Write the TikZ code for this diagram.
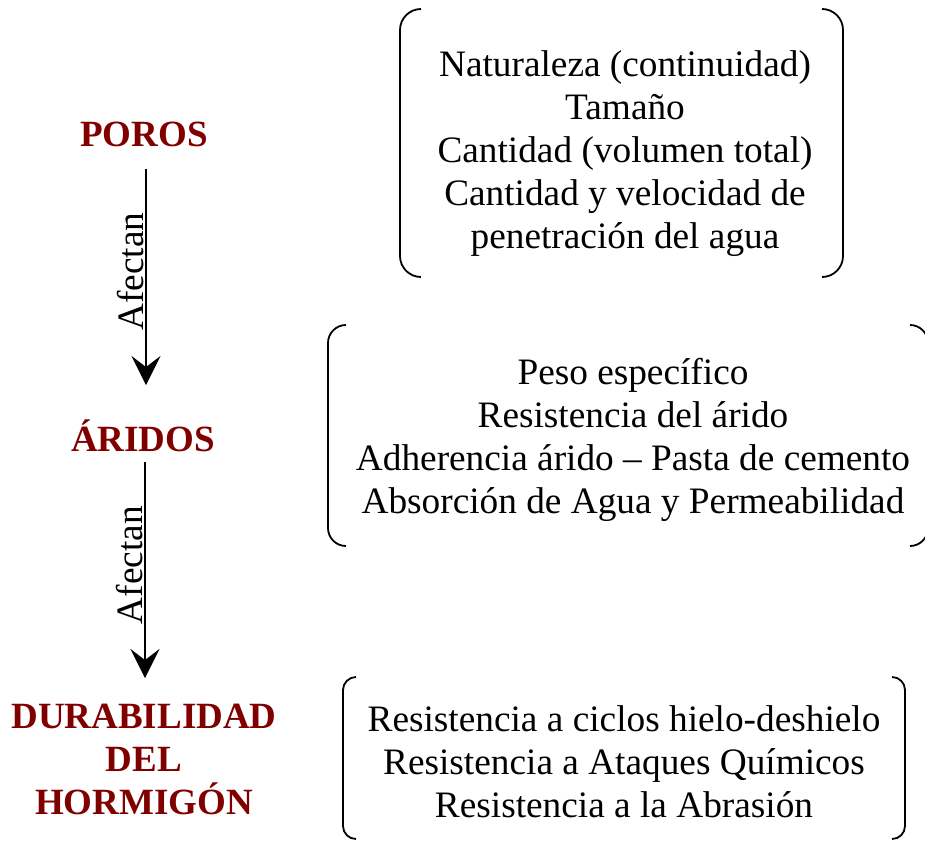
\documentclass[tikz,border=0pt]{standalone}
\usepackage{fontspec}
\setmainfont{Liberation Serif}
\usetikzlibrary{arrows.meta}
\definecolor{darkred}{RGB}{128,0,0}
\begin{document}
\begin{tikzpicture}[x=1pt,y=-1pt,
  lbl/.style={font=\fontsize{37}{43}\selectfont\bfseries, text=darkred, align=center, inner sep=0pt},
  itm/.style={font=\fontsize{37.3}{43}\selectfont, align=center, inner sep=0pt},
  brk/.style={line width=1.8pt},
  arr/.style={line width=2pt, -{Stealth[length=29pt,width=29pt,inset=11pt]}},
  afl/.style={font=\fontsize{37.3}{43}\selectfont, rotate=90, inner sep=0pt, anchor=base}]
\useasboundingbox (0,0) rectangle (925,841);

% left labels
\node[lbl, anchor=base] (poros) at (144,146) {POROS};
\node[lbl, anchor=base] (aridos) at (143,451) {ÁRIDOS};
\node[lbl] (dur) at (144,759) {DURABILIDAD\\DEL\\HORMIGÓN};

% arrows
\draw[arr] ([xshift=2pt,yshift=-23pt]poros.base) -- ([xshift=3pt,yshift=66pt]aridos.base);
\draw[arr] ([xshift=2pt,yshift=-11pt]aridos.base) -- ([xshift=1pt,yshift=81pt]dur.center);
\node[afl] (af1) at (143,271.5) {Afectan};
\node[afl] (af2) at (142,565) {Afectan};

% right texts
\node[itm] (t1) at (625,153.3) {Naturaleza (continuidad)\\Tamaño\\Cantidad (volumen total)\\Cantidad y velocidad de\\penetración del agua};
\node[itm] (t2) at (633,439.8) {Peso específico\\Resistencia del árido\\Adherencia árido – Pasta de cemento\\Absorción de Agua y Permeabilidad};
\node[itm] (t3) at (624,762.2) {Resistencia a ciclos hielo-deshielo\\Resistencia a Ataques Químicos\\Resistencia a la Abrasión};

% brackets
\draw[brk, rounded corners=21pt] (421,9) -- (400,9) -- (400,277) -- (421,277);
\draw[brk, rounded corners=21pt] (822,9) -- (843,9) -- (843,277) -- (822,277);
\draw[brk, rounded corners=18pt] (346,325) -- (328,325) -- (328,546) -- (346,546);
\draw[brk, rounded corners=18pt] (910,325) -- (928,325) -- (928,546) -- (910,546);
\draw[brk, rounded corners=13pt] (356,677) -- (343,677) -- (343,839) -- (356,839);
\draw[brk, rounded corners=13pt] (892,677) -- (905,677) -- (905,839) -- (892,839);
\end{tikzpicture}
\end{document}
